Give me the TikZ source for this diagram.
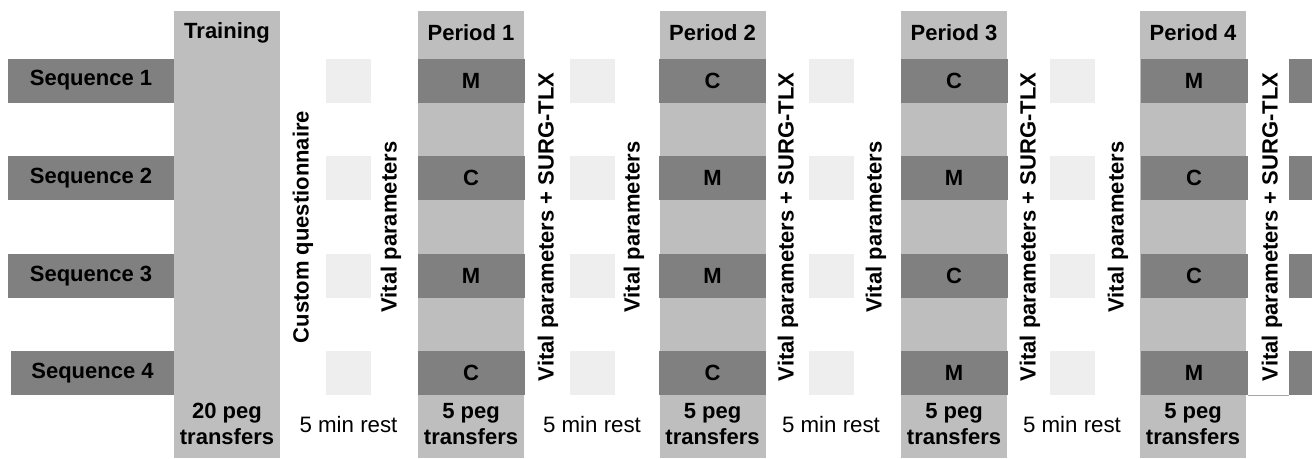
\documentclass[tikz,border=0pt]{standalone}
\usepackage{fontspec}
\setmainfont{Liberation Sans}
\usetikzlibrary{positioning}

\definecolor{colgray}{RGB}{190,190,190}
\definecolor{slotgray}{RGB}{128,128,128}
\definecolor{restgray}{RGB}{238,238,238}

\tikzset{
  colbox/.style={fill=colgray, minimum width=106pt, minimum height=447pt, inner sep=0pt, outer sep=0pt},
  head/.style={font=\fontsize{22}{26}\selectfont\bfseries},
  seqbox/.style={fill=slotgray, minimum width=166pt, minimum height=44pt, inner sep=0pt, outer sep=0pt, font=\fontsize{22}{26}\selectfont\bfseries},
  slot/.style={fill=slotgray, minimum width=107pt, minimum height=44pt, inner sep=0pt, outer sep=0pt, font=\fontsize{22}{26}\selectfont\bfseries},
  restbox/.style={fill=restgray, minimum width=45pt, minimum height=44pt, inner sep=0pt, outer sep=0pt},
  vlabel/.style={rotate=90, font=\fontsize{22}{26}\selectfont\bfseries},
  foot/.style={align=center, font=\fontsize{22}{26.5}\selectfont\bfseries},
  rest/.style={font=\fontsize{22.3}{26}\selectfont}
}

\begin{document}
\begin{tikzpicture}[x=1pt, y=-1pt]
\useasboundingbox (0,0) rectangle (1312,458);
\clip (0,0) rectangle (1312,458);

% columns with headings
\foreach \name/\x/\title in {train/227/Training, p1/471/Period 1, p2/712.5/Period 2, p3/954/Period 3, p4/1193/Period 4} {
  \node[colbox] (\name) at (\x,234.5) {};
  \node[head] (\name-head) at (\x,33) {\title};
}

% sequences
\foreach \i/\y in {1/80.5, 2/178, 3/276} \node[seqbox] (seq\i) at (91,\y) {Sequence \i};
\node[seqbox, minimum width=163pt] (seq4) at (92.5,373) {Sequence 4};

% conditions per period
\foreach \p/\x/\a/\b/\c/\d in {p1/471/M/C/M/C, p2/712.5/C/M/M/C, p3/954/C/M/C/M, p4/1194/M/C/C/M} {
  \node[slot] (\p-s1) at (\x,80.5) {\a};
  \node[slot] (\p-s2) at (\x,178) {\b};
  \node[slot] (\p-s3) at (\x,276) {\c};
  \node[slot] (\p-s4) at (\x,373) {\d};
}

% rest squares
\foreach \g/\x in {1/348.5, 2/592, 3/831, 4/1072}
  \foreach \i/\y in {1/80.5, 2/178, 3/276, 4/373}
    \node[restbox] (r\g-\i) at (\x,\y) {};
\foreach \i/\y in {1/80.5, 2/178, 3/276, 4/373}
  \node[restbox, fill=slotgray] (r5-\i) at (1311.5,\y) {};

\draw[gray!70, line width=0.8pt] (p4-s4.south east) -- (r5-4.south west);

% measurements
\node[vlabel] (quest) at (303,227) {Custom questionnaire};
\node[vlabel] (vital1) at (391,227) {Vital parameters};
\node[vlabel] (tlx1) at (548,227) {Vital parameters + SURG-TLX};
\node[vlabel] (vital2) at (634,227) {Vital parameters};
\node[vlabel] (tlx2) at (788,227) {Vital parameters + SURG-TLX};
\node[vlabel] (vital3) at (876,227) {Vital parameters};
\node[vlabel] (tlx3) at (1030,227) {Vital parameters + SURG-TLX};
\node[vlabel] (vital4) at (1118,227) {Vital parameters};
\node[vlabel] (tlx4) at (1272,227) {Vital parameters + SURG-TLX};

% bottom line
\node[foot] (train-foot) at (227,424) {20 peg\\transfers};
\foreach \p/\x in {p1/471, p2/712.5, p3/954, p4/1193}
  \node[foot] (\p-foot) at (\x,424) {5 peg\\transfers};
\foreach \g/\x in {1/348.5, 2/592, 3/831, 4/1072}
  \node[rest] (rest\g) at (\x,425) {5 min rest};
\end{tikzpicture}
\end{document}
